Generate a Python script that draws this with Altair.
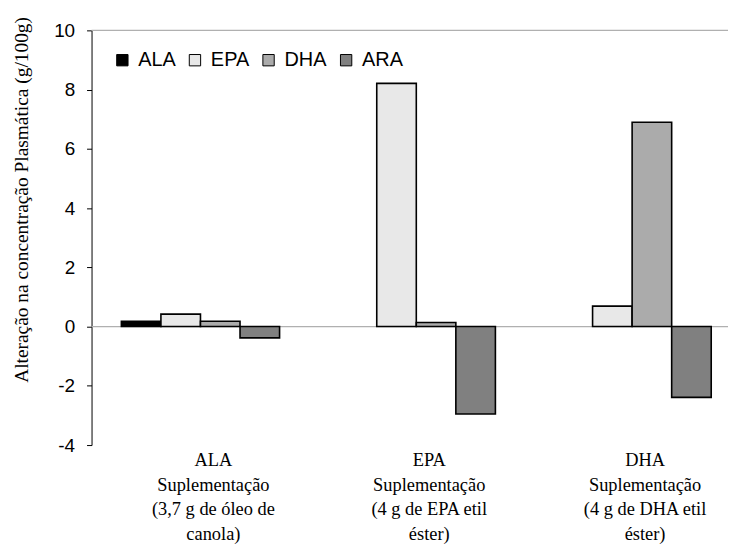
import altair as alt
import pandas as pd

# Data
groups = [
    "ALA|Suplementação|(3,7 g de óleo de|canola)",
    "EPA|Suplementação|(4 g de EPA etil|éster)",
    "DHA|Suplementação|(4 g de DHA etil|éster)",
]
series = ["ALA", "EPA", "DHA", "ARA"]
ala_vals = [0.18, 0.0, 0.0]
epa_vals = [0.42, 8.21, 0.69]
dha_vals = [0.18, 0.14, 6.9]
ara_vals = [-0.38, -2.95, -2.39]
y_ticks = [-4, -2, 0, 2, 4, 6, 8, 10]
ref_lines = [0, 10]

colors = ["#000000", "#e8e8e8", "#ababab", "#808080"]

rows = []
for name, vals in zip(series, [ala_vals, epa_vals, dha_vals, ara_vals]):
    for g, v in zip(groups, vals):
        rows.append({"group": g, "series": name, "value": v})
df = pd.DataFrame(rows)

rules = alt.Chart(pd.DataFrame({"y": ref_lines})).mark_rule(
    color="#b0b0b0", strokeWidth=1.2
).encode(y=alt.Y("y:Q", scale=alt.Scale(domain=[-4, 10], nice=False)))

bars = alt.Chart(df).transform_filter("datum.value != 0").mark_bar(
    stroke="black", strokeWidth=1.6, opacity=1
).encode(
    x=alt.X(
        "group:N",
        sort=groups,
        scale=alt.Scale(domain=groups, paddingInner=0.267, paddingOuter=0.108, align=0.64),
        axis=alt.Axis(
            title=None,
            labelExpr="split(datum.label, '|')",
            labelAngle=0,
            labelFont="Liberation Serif",
            labelFontSize=18.5,
            labelColor="black",
            labelLineHeight=24.5,
            labelPadding=6,
            labelOffset=13,
            domain=False,
            ticks=False,
            grid=False,
        ),
    ),
    xOffset=alt.XOffset(
        "series:N",
        sort=series,
        scale=alt.Scale(domain=series, paddingInner=0, paddingOuter=0),
    ),
    y=alt.Y(
        "value:Q",
        scale=alt.Scale(domain=[-4, 10], nice=False),
        axis=alt.Axis(
            values=y_ticks,
            grid=False,
            labelExpr="toString(datum.value)",
            title="Alteração na concentração Plasmática (g/100g)",
            titleFont="Liberation Serif",
            titleFontSize=19.5,
            titleFontWeight="normal",
            titleColor="black",
            titleX=-70,
            titleY=170,
            titleAlign="center",
            titleBaseline="middle",
            labelFont="Liberation Sans",
            labelFontSize=19,
            labelColor="black",
            labelPadding=12,
            tickSize=5,
            tickColor="black",
            domainColor="black",
        ),
    ),
    color=alt.Color(
        "series:N",
        sort=series,
        scale=alt.Scale(domain=series, range=colors),
        legend=alt.Legend(
            title=None,
            orient="none",
            legendX=21,
            legendY=20,
            direction="horizontal",
            symbolType="square",
            symbolSize=130,
            symbolStrokeColor="black",
            symbolStrokeWidth=1,
            symbolOpacity=1,
            labelFont="Liberation Sans",
            labelFontSize=20,
            labelColor="black",
            labelOffset=6,
            columnPadding=9,
        ),
    ),
)

chart = alt.layer(rules, bars).properties(
    width=640,
    height=417,
    padding={"left": 3, "top": 6, "right": 0, "bottom": 0},
).configure_view(strokeWidth=0)

chart.save("out.html", embed_options={"renderer": "svg", "actions": False})
